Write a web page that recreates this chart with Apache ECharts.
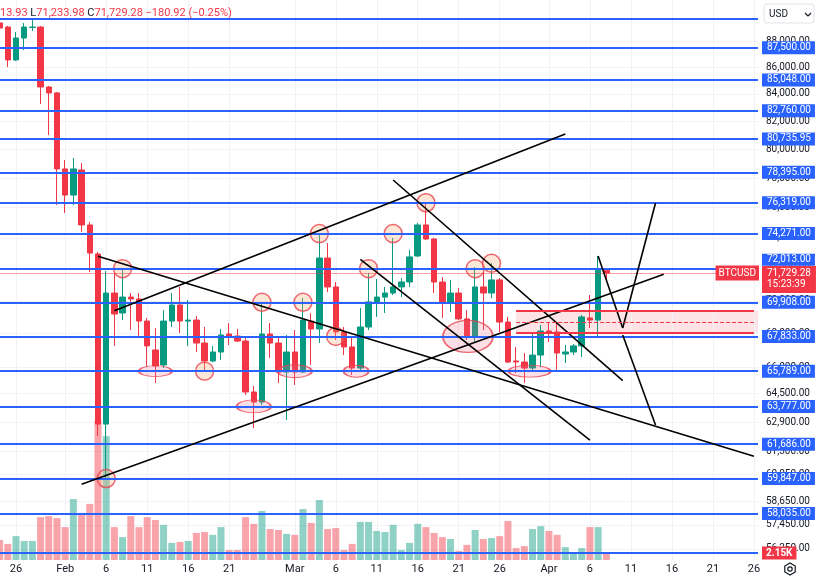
<!DOCTYPE html>
<html>
<head>
<meta charset="utf-8">
<script src="https://cdn.jsdelivr.net/npm/echarts@6/dist/echarts.min.js"></script>
<style>
  html, body { margin: 0; padding: 0; background: #fff; }
  #chart { width: 820px; height: 579px; }
</style>
</head>
<body>
<div id="chart"></div>
<script>
// daily BTCUSD candles, 2026-01-24 .. 2026-04-08
const firstDay = '2026-01-24';
const opens = [
  89430, 89110, 86560, 88250, 89080, 89110, 84520, 84080,
  78630, 76840, 78560, 74840, 72950, 62790, 70480, 69250, 70230, 70110,
  68760, 67030, 66150, 68760, 69740, 68760, 68820, 67440, 66380, 66910,
  67980, 67860, 67560, 64590, 64020, 67980, 67440, 65740,
  66910, 65740, 68760, 68280, 72690, 70860, 68100, 67210, 65970, 68400,
  69930, 70230, 70480, 70860, 71170, 72820, 74840, 73920, 71170, 69860,
  70480, 68890, 67800, 70860, 70480, 71300, 68700, 66380, 66320, 65970, 66730,
  68160, 68100, 66790, 66910, 67270, 68950, 68820, 71910.2
];
const highs = [
  89580, 89190, 88720, 89430, 89660, 89190, 84600, 84150,
  79250, 79390, 79040, 75040, 73080, 71860, 71740, 72050, 70480, 70480,
  68950, 68340, 69430, 70480, 70860, 70050, 69070, 68400, 67270, 68280,
  68640, 68280, 67740, 64930, 69930, 68640, 67740, 67920,
  68220, 70170, 69250, 74180, 73660, 71170, 68400, 67800, 69560, 71740,
  71360, 70860, 73990, 71420, 73210, 74970, 76240, 73990, 71480, 71300,
  70790, 69430, 72120, 71800, 72370, 71420, 69010, 67210, 66850, 68040, 68520,
  68640, 68640, 67320, 67380, 69130, 70360, 72820, 72013.93
];
const lows = [
  88880, 86020, 86480, 87320, 88800, 83260, 81020, 76170,
  75630, 76170, 74380, 71800, 62130, 59770, 67270, 68820, 68220, 67860,
  66030, 65110, 65970, 68400, 68040, 67270, 66910, 65740, 66320, 66440,
  67320, 67500, 64420, 62570, 63860, 66560, 65110, 63020,
  64990, 65680, 66150, 67440, 70550, 67620, 66730, 65570, 65860, 68220,
  69010, 69250, 70360, 70230, 70860, 72760, 73850, 70480, 68950, 69310,
  68820, 67620, 67440, 68220, 70170, 68100, 66260, 65680, 65110, 65860, 66030,
  67500, 65740, 66260, 66730, 66620, 68340, 67740, 71233.98
];
const closes = [
  89030, 86560, 88250, 89110, 89110, 84520, 84080, 78630,
  76840, 78630, 74840, 73010, 62790, 70480, 69190, 70230, 70110, 68760,
  67270, 66090, 68760, 69740, 68760, 68820, 67440, 66380, 66910, 67920,
  67860, 67560, 64590, 64020, 67980, 67440, 65740, 66910,
  65740, 68820, 68280, 72690, 70860, 68100, 67210, 65970, 68400, 69930,
  70230, 70480, 70860, 71170, 72760, 74840, 73920, 71170, 69860, 70480,
  68890, 67800, 70860, 70480, 71300, 68700, 66320, 66320, 65970, 66730, 68160,
  68100, 66850, 66910, 67270, 69010, 68820, 71910.2, 71729.28
];
// volume in thousands
const volumes = [
  6.2, 5.0, 7.4, 5.9, 5.9, 13.3, 13.6, 13.0,
  10.2, 18.9, 14.6, 17.4, 43.4, 38.4, 10.2, 7.1, 13.6, 10.2,
  13.3, 12.4, 10.9, 5.3, 5.6, 5.9, 8.4, 8.7, 7.8, 10.2,
  3.1, 3.1, 13.3, 11.2, 15.2, 9.6, 9.3, 8.1,
  7.8, 15.8, 11.5, 18.6, 9.6, 9.9, 3.1, 5.0, 11.8, 11.8,
  9.0, 8.7, 10.9, 3.1, 5.3, 11.2, 10.2, 8.4, 7.1, 6.5,
  2.8, 4.7, 9.3, 6.5, 6.8, 7.4, 12.1, 3.7, 4.3, 9.6, 10.5,
  9.0, 7.8, 4.0, 2.2, 3.7, 10.2, 10.2, 2.15
];

// horizontal levels drawn on the chart
const levels = [87500, 85048, 82760, 80735.95, 78395, 76319, 74271, 72013,
  69908, 67833, 65789, 63777, 61686, 59847, 58035];
const plainLevels = [89800, 56050];
const raisedLabels = [72013]; // label pushed up by the last price tag
const lastPrice = 71729.28;

// price scale tick labels
const yTicks = [88000, 86000, 84000, 82000, 80000, 78000, 76000, 74000, 72000,
  70000, 68000, 66000, 64500, 62900, 61300, 60050, 58650, 57450, 56250];
// time scale tick labels
const tickDates = ['2026-01-26', '2026-02-01', '2026-02-06', '2026-02-11', '2026-02-16',
  '2026-02-21', '2026-03-01', '2026-03-06', '2026-03-11', '2026-03-16', '2026-03-21',
  '2026-03-26', '2026-04-01', '2026-04-06', '2026-04-11', '2026-04-16', '2026-04-21', '2026-04-26'];
const lastDay = '2026-04-26';

// drawings: [fromDate, fromPrice, toDate, toPrice]
const trendLines = [
  ['2026-02-05', 72808, '2026-04-26', 61037],
  ['2026-02-03', 59542, '2026-04-15', 71661],
  ['2026-02-07', 69385, '2026-04-03', 81090],
  ['2026-03-13', 77866, '2026-04-10', 65244],
  ['2026-03-09', 72600, '2026-04-06', 61914],
  ['2026-04-07', 72820, '2026-04-10', 68341],
  ['2026-04-10', 68341, '2026-04-14', 76304],
  ['2026-04-10', 67920, '2026-04-14', 62739]
];
const touchPoints = [
  ['2026-02-06', 59847], ['2026-02-08', 72013], ['2026-02-18', 65789],
  ['2026-02-25', 69908], ['2026-03-02', 69908], ['2026-03-04', 74271],
  ['2026-03-06', 67833], ['2026-03-10', 72013], ['2026-03-13', 74271],
  ['2026-03-17', 76319], ['2026-03-23', 72013], ['2026-03-25', 72350]
];
const touchZones = [
  ['2026-02-12', 65789], ['2026-02-24', 63777], ['2026-03-01', 65789],
  ['2026-03-08', 65789], ['2026-03-22', 67833], ['2026-03-30', 65789]
];
const zoneStart = '2026-03-28';
const zoneTop = 69373, zoneMid = 68703, zoneBottom = 68040;

// ---------------------------------------------------------------------------
const FONT = 'Roboto, "Noto Sans", sans-serif';
const UP = '#089981', DOWN = '#f23645', BLUE = '#2962ff', TEXT = '#131722';
const MONTHS = ['Jan', 'Feb', 'Mar', 'Apr', 'May', 'Jun', 'Jul', 'Aug', 'Sep', 'Oct', 'Nov', 'Dec'];
const fmt = v => v.toLocaleString('en-US', { minimumFractionDigits: 2, maximumFractionDigits: 2 });

let categories = [];
for (let t = Date.parse(firstDay); t <= Date.parse(lastDay); t += 86400000) {
  categories.push(new Date(t).toISOString().slice(0, 10));
}

const candles = opens.map((o, i) => [o, closes[i], lows[i], highs[i]]);
const volBars = volumes.map((v, i) => ({
  value: v,
  itemStyle: { color: closes[i] >= opens[i] ? 'rgba(8,153,129,0.45)' : 'rgba(242,54,69,0.45)' }
}));

const zoneSizes = [[33, 11], [34, 13], [34, 13], [25, 12], [50, 32], [42, 12]];
const zoneShift = [0, 0, 0, 4, 1, -3];

const blackLine = { color: '#000', width: 1.6, type: 'solid' };
const redLine = { color: DOWN, width: 2, type: 'solid' };

function levelLabel(v) {
  const base = { show: true, position: 'end', distance: 4, fontFamily: FONT };
  if (raisedLabels.includes(v)) {
    return Object.assign(base, {
      formatter: '{a|' + fmt(v) + '}\n{b| }',
      rich: {
        a: { color: '#fff', backgroundColor: BLUE, padding: [1, 4, 1, 5], fontSize: 10, lineHeight: 11, fontFamily: FONT },
        b: { height: 18, fontSize: 10 }
      }
    });
  }
  return Object.assign(base, {
    formatter: fmt(v), color: '#fff', backgroundColor: BLUE, padding: [1, 4, 1, 5],
    fontSize: 10, lineHeight: 11
  });
}

let chart = echarts.init(document.getElementById('chart'));

let option = {
  animation: false,
  backgroundColor: '#ffffff',
  grid: { left: -4.5, right: 62, top: 0, bottom: 19, outerBoundsMode: 'none' },
  xAxis: {
    type: 'category',
    data: categories,
    boundaryGap: true,
    axisLine: { show: false },
    axisTick: { show: false },
    splitLine: { show: false },
    axisLabel: {
      interval: (i, v) => tickDates.includes(v),
      formatter: v => {
        const p = v.split('-').map(Number);
        return p[2] === 1 ? MONTHS[p[1] - 1] : String(p[2]);
      },
      color: TEXT,
      fontSize: 11,
      fontFamily: FONT,
      margin: 4
    }
  },
  yAxis: [
    {
      type: 'log',
      position: 'right',
      min: 55699,
      max: 91258,
      axisLine: { show: false },
      axisTick: { show: false },
      axisLabel: { show: false },
      splitLine: { show: false }
    },
    { type: 'value', min: 0, max: 173.6, show: false }
  ],
  series: [
    {
      // grid lines + price scale labels
      name: 'grid',
      type: 'line',
      data: [],
      silent: true,
      markLine: {
        z: 1,
        silent: true,
        symbol: 'none',
        animation: false,
        lineStyle: { color: '#f0f2f6', width: 1, type: 'solid' },
        label: {
          show: true, position: 'end', distance: 8,
          color: TEXT, fontSize: 10, fontFamily: FONT,
          formatter: p => fmt(p.value)
        },
        data: [
          ...yTicks.map(v => ({ yAxis: v })),
          ...tickDates.map(d => ({ xAxis: d, label: { show: false } }))
        ]
      }
    },
    {
      name: 'Volume',
      type: 'bar',
      yAxisIndex: 1,
      data: volBars,
      barWidth: 7,
      z: 2,
      silent: true
    },
    {
      name: 'BTCUSD',
      type: 'candlestick',
      data: candles,
      barWidth: 6,
      z: 3,
      itemStyle: { color: UP, color0: DOWN, borderColor: UP, borderColor0: DOWN, borderWidth: 1 },
      markArea: {
        silent: true,
        itemStyle: { color: 'rgba(242,54,69,0.14)' },
        data: [[{ xAxis: zoneStart, yAxis: zoneTop }, { yAxis: zoneBottom }]]
      },
      markLine: {
        silent: true,
        symbol: 'none',
        animation: false,
        label: { show: false },
        data: [
          ...levels.map(v => ({
            yAxis: v,
            lineStyle: { color: BLUE, width: 2, type: 'solid' },
            label: levelLabel(v)
          })),
          ...plainLevels.map(v => ({ yAxis: v, lineStyle: { color: BLUE, width: 2, type: 'solid' } })),
          { yAxis: lastPrice, lineStyle: { color: DOWN, width: 1, type: 'dotted' } },
          ...trendLines.map(t => [
            { coord: [t[0], t[1]], lineStyle: blackLine },
            { coord: [t[2], t[3]], lineStyle: blackLine }
          ]),
          [{ coord: [zoneStart, zoneTop], lineStyle: redLine }, { coord: [lastDay, zoneTop], lineStyle: redLine }],
          [{ coord: [zoneStart, zoneBottom], lineStyle: redLine }, { coord: [lastDay, zoneBottom], lineStyle: redLine }],
          [{ coord: [zoneStart, zoneMid], lineStyle: { color: DOWN, width: 1, type: 'dashed' } },
           { coord: [lastDay, zoneMid], lineStyle: { color: DOWN, width: 1, type: 'dashed' } }]
        ]
      }
    },
    {
      name: 'marks',
      type: 'scatter',
      z: 4,
      silent: true,
      data: [
        ...touchPoints.map(p => ({
          value: p, symbolSize: 18,
          itemStyle: { color: 'rgba(255,170,110,0.35)', borderColor: '#e8424f', borderWidth: 1.5 }
        })),
        ...touchZones.map((p, i) => ({
          value: p, symbolSize: zoneSizes[i], symbolOffset: [zoneShift[i], 0],
          itemStyle: { color: 'rgba(236,110,140,0.28)', borderColor: '#e8424f', borderWidth: 1.5 }
        }))
      ]
    }
  ]
};

chart.setOption(option);

// labels tied to the last bar
const py = chart.convertToPixel({ yAxisIndex: 0 }, lastPrice);
const vy = chart.convertToPixel({ yAxisIndex: 1 }, volumes[volumes.length - 1]);
const hex = [];
for (let k = 0; k < 6; k++) {
  const a = Math.PI / 6 + k * Math.PI / 3;
  hex.push([790 + 6 * Math.cos(a), 569 + 6 * Math.sin(a)]);
}

chart.setOption({
  graphic: [
    {
      type: 'text', x: 0, y: 13, z: 100,
      style: {
        text: '{r|13.93} {k|L}{r|71,233.98} {k|C}{r|71,729.28} {r|\u2212180.92 (\u22120.25%)}',
        fontSize: 11, fontFamily: FONT, verticalAlign: 'middle',
        rich: {
          r: { fill: DOWN, color: DOWN, fontSize: 11, fontFamily: FONT },
          k: { fill: TEXT, color: TEXT, fontSize: 11, fontFamily: FONT }
        }
      }
    },
    {
      type: 'rect', z: 100,
      shape: { x: 764, y: 4, width: 50, height: 19, r: 3 },
      style: { fill: '#fff', stroke: '#e0e3eb', lineWidth: 1 }
    },
    {
      type: 'text', x: 769, y: 14, z: 101,
      style: { text: 'USD', fill: TEXT, fontSize: 10, fontFamily: FONT, verticalAlign: 'middle' }
    },
    {
      type: 'polyline', z: 101,
      shape: { points: [[805, 13], [808, 16], [811, 13]] },
      style: { stroke: TEXT, lineWidth: 1.2, fill: null }
    },
    {
      type: 'text', x: 759, y: py, z: 100,
      style: {
        text: 'BTCUSD', fill: '#fff', fontSize: 10, fontFamily: FONT,
        align: 'right', verticalAlign: 'middle',
        backgroundColor: DOWN, padding: [3, 3, 2, 3]
      }
    },
    {
      type: 'text', x: 762, y: py - 7, z: 100,
      style: {
        text: fmt(lastPrice) + '\n15:23:39', fill: '#fff', fontSize: 10, lineHeight: 11,
        fontFamily: FONT, align: 'left', verticalAlign: 'top',
        backgroundColor: DOWN, padding: [2, 5, 3, 5]
      }
    },
    {
      type: 'text', x: 762, y: vy, z: 100,
      style: {
        text: volumes[volumes.length - 1].toFixed(2) + 'K', fill: '#fff', fontSize: 10,
        fontWeight: 'bold', fontFamily: FONT, align: 'left', verticalAlign: 'middle',
        backgroundColor: DOWN, padding: [2, 4, 1, 4]
      }
    },
    {
      type: 'polygon', z: 100,
      shape: { points: hex },
      style: { fill: null, stroke: TEXT, lineWidth: 1.2 }
    },
    {
      type: 'circle', z: 100,
      shape: { cx: 790, cy: 569, r: 2.2 },
      style: { fill: null, stroke: TEXT, lineWidth: 1.2 }
    }
  ]
});

window.onresize = chart.resize;
</script>
</body>
</html>
